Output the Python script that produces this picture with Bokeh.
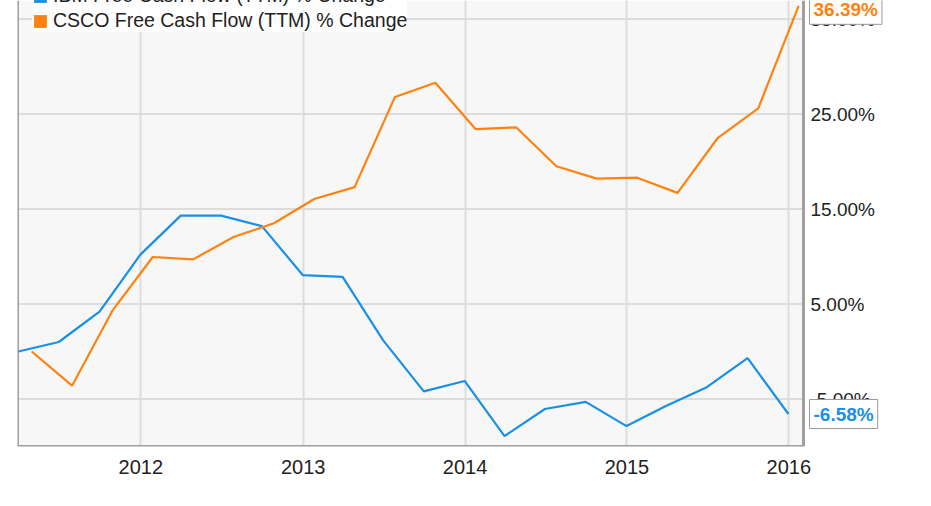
import pandas as pd
from bokeh.plotting import figure
from bokeh.models import (Range1d, FixedTicker, CustomJSTickFormatter, BoxAnnotation,
                          Label, Legend, LegendItem)
from bokeh.core.properties import value
from bokeh.embed import file_html
from bokeh.resources import INLINE

# ---- data ----
ibm_dates = ["2011-03-31", "2011-06-30", "2011-09-30", "2011-12-31",
             "2012-03-31", "2012-06-30", "2012-09-30", "2012-12-31",
             "2013-03-31", "2013-06-30", "2013-09-30", "2013-12-31",
             "2014-03-31", "2014-06-30", "2014-09-30", "2014-12-31",
             "2015-03-31", "2015-06-30", "2015-09-30", "2015-12-31"]
ibm_values = [0.0, 1.0, 4.2, 10.2, 14.3, 14.3, 13.2, 8.05, 7.85, 1.2,
              -4.2, -3.1, -8.9, -6.05, -5.3, -7.85, -5.7, -3.75, -0.7, -6.58]

csco_dates = ["2011-04-30", "2011-07-30", "2011-10-29", "2012-01-28",
              "2012-04-28", "2012-07-28", "2012-10-27", "2013-01-26",
              "2013-04-27", "2013-07-27", "2013-10-26", "2014-01-25",
              "2014-04-26", "2014-07-26", "2014-10-25", "2015-01-24",
              "2015-04-25", "2015-07-25", "2015-10-24", "2016-01-23"]
csco_values = [0.0, -3.6, 4.3, 9.95, 9.7, 12.05, 13.5, 16.05, 17.3, 26.8,
               28.3, 23.4, 23.6, 19.5, 18.2, 18.3, 16.7, 22.5, 25.6, 36.39]

year_ticks = ["2012-01-01", "2013-01-01", "2014-01-01", "2015-01-01", "2016-01-01"]
y_ticks = [-5, 5, 15, 25, 35]
y_tick_labels = [f"{t:.2f}%" for t in y_ticks]

ibm_label = "IBM Free Cash Flow (TTM) % Change"
csco_label = "CSCO Free Cash Flow (TTM) % Change"

BLUE = "#1a8fe6"
ORANGE = "#ff8210"
FONT = "Liberation Sans"
NAN = float("nan")
Y_MIN, Y_MAX = -10, 36.95


def ms(dates):
    return [pd.Timestamp(d).value // 10**6 for d in dates]


# layout: figure 915 wide, plot area 17..803, right margin area used for value labels
W, H = 915, 490
LEFT, DATA_RIGHT, BOTTOM_BORDER = 17, 803, 44
x_start = ms(["2011-03-29"])[0]
x_data_end = ms(["2016-02-03"])[0]
x_frame_end = x_start + (x_data_end - x_start) * (W - LEFT) / (DATA_RIGHT - LEFT)

p = figure(width=W, height=H, x_axis_type="datetime", y_axis_location=None,
           output_backend="svg", toolbar_location=None,
           x_range=Range1d(x_start, x_frame_end), y_range=Range1d(Y_MIN, Y_MAX),
           min_border_left=LEFT, min_border_right=0, min_border_top=0,
           min_border_bottom=BOTTOM_BORDER)

p.background_fill_color = "white"
p.border_fill_color = "white"
p.outline_line_color = None
p.ygrid.visible = False

# plot area background
p.add_layout(BoxAnnotation(left=x_start, right=x_data_end, bottom=Y_MIN, top=Y_MAX,
                           fill_color="#f7f7f7", fill_alpha=1.0,
                           line_color=None, level="image"))

# vertical grid (years)
p.xgrid.ticker = FixedTicker(ticks=ms(year_ticks))
p.xgrid.grid_line_color = "#dcdcdc"
p.xgrid.grid_line_width = 2
p.xgrid.level = "underlay"
# horizontal grid lines limited to plot area
p.segment(x0=[x_start] * len(y_ticks), x1=[x_data_end] * len(y_ticks),
          y0=y_ticks, y1=y_ticks, line_color="#dcdcdc", line_width=2)

# frame border (left, bottom, right)
p.segment(x0=[x_start, x_start, x_data_end], x1=[x_start, x_data_end, x_data_end],
          y0=[Y_MIN, Y_MIN, Y_MIN], y1=[Y_MAX, Y_MIN, Y_MAX],
          line_color="#a0a0a0", line_width=3)

# y tick labels on the right of the plot area
p.text(x=[x_data_end] * len(y_ticks), y=y_ticks, text=y_tick_labels,
       x_offset=7, text_align="left", text_baseline="middle",
       text_font=value(FONT), text_font_size="19px", text_color="#222222")

# x axis
xa = p.xaxis[0]
xa.ticker = FixedTicker(ticks=ms(year_ticks))
xa.formatter = CustomJSTickFormatter(code="return String(new Date(tick).getUTCFullYear());")
xa.axis_line_color = None
xa.major_tick_line_color = None
xa.minor_tick_line_color = None
xa.major_label_text_font = FONT
xa.major_label_text_color = "#222222"
xa.major_label_text_font_size = "20px"
xa.major_label_standoff = 7

# lines
p.line(ms(ibm_dates), ibm_values, line_color=BLUE, line_width=2.2)
p.line(ms(csco_dates), csco_values, line_color=ORANGE, line_width=2.2)

# legend squares (glyphs without visible data)
r_ibm = p.quad(left=[NAN], right=[NAN], top=[NAN], bottom=[NAN],
               fill_color=BLUE, line_color=None)
r_csco = p.quad(left=[NAN], right=[NAN], top=[NAN], bottom=[NAN],
                fill_color=ORANGE, line_color=None)
legend = Legend(items=[LegendItem(label=ibm_label, renderers=[r_ibm]),
                       LegendItem(label=csco_label, renderers=[r_csco])],
                location=(15, 414))
legend.margin = 0
legend.padding = 10
legend.spacing = 2
legend.glyph_width = 16
legend.glyph_height = 16
legend.label_standoff = 5
legend.label_text_font = FONT
legend.label_text_font_size = "19.5px"
legend.label_text_color = "#222222"
legend.background_fill_color = "white"
legend.background_fill_alpha = 0.85
legend.border_line_color = None
p.add_layout(legend)

# end-value callouts
for vals, color, yoff in ((csco_values, ORANGE, -4), (ibm_values, BLUE, 0)):
    lab = Label(x=x_data_end, y=vals[-1], x_units="data", y_units="data",
                text=f"{vals[-1]:.2f}%", x_offset=6, y_offset=yoff,
                text_align="left", text_baseline="middle",
                text_color=color, text_font=FONT, text_font_style="bold",
                text_font_size="19px",
                background_fill_color="white", border_line_color="#9a9a9a",
                border_line_width=1, padding=4)
    p.add_layout(lab)

open("out.html", "w").write(file_html(p, INLINE))
